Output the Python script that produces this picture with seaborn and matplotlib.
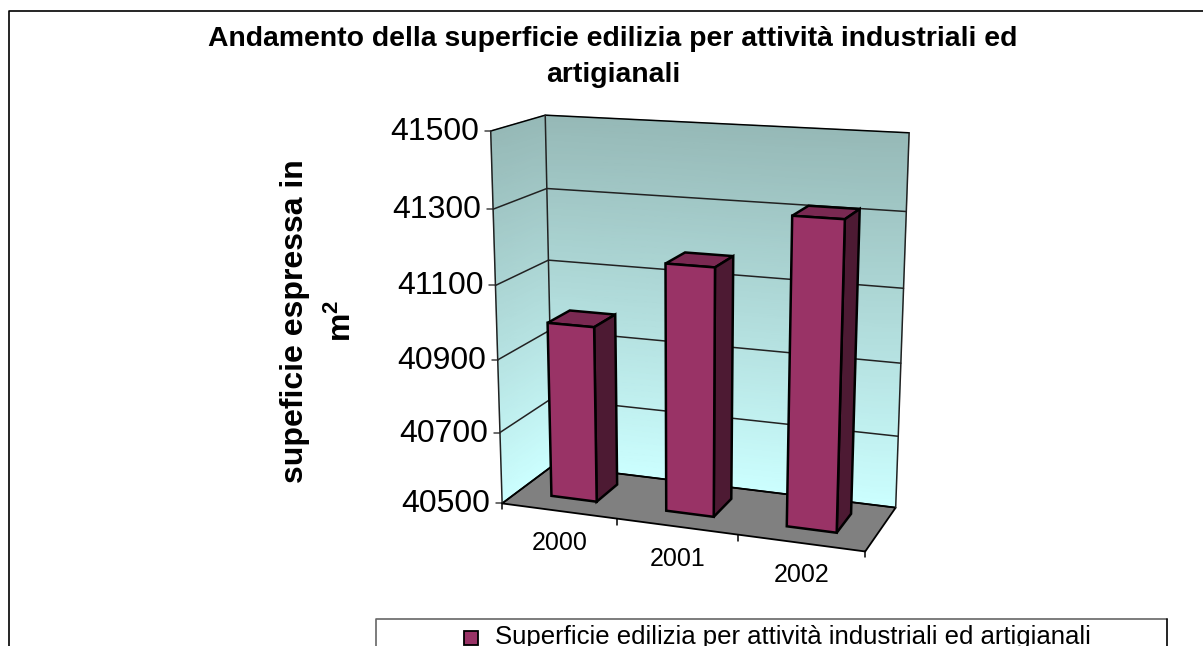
import numpy as np
import pandas as pd
import matplotlib
matplotlib.use("Agg")
import matplotlib.pyplot as plt
from matplotlib.colors import LinearSegmentedColormap
from matplotlib.patches import Polygon, Rectangle
from matplotlib.transforms import Transform
import seaborn as sns

# ---- data ----
years = ["2000", "2001", "2002"]
surface_m2 = [40985, 41170, 41315]
value_ticks = [40500, 40700, 40900, 41100, 41300, 41500]
title_text = "Andamento della superficie edilizia per attività industriali ed\nartigianali"
ylabel_text = "supeficie espressa in\n$\\mathbf{m^2}$"
legend_text = "Superficie edilizia per attività industriali ed artigianali"

sns.set_theme(style="white")
plt.rcParams["font.family"] = ["Liberation Sans", "DejaVu Sans"]
plt.rcParams["mathtext.fontset"] = "custom"
plt.rcParams["mathtext.bf"] = "Liberation Sans:bold"
plt.rcParams["mathtext.rm"] = "Liberation Sans"

W, H = 1203, 646
V0, V1 = value_ticks[0], value_ticks[-1]

# ---- camera calibration: (category position, value fraction, depth) -> pixel ----
anchors = [((0, 0, 0), (503, 502)), ((0, 1, 0), (490, 131)), ((3, 0, 0), (865, 553)),
           ((0, 0, 1), (552, 467)), ((0, 1, 1), (546, 115)), ((3, 1, 1), (909, 133)),
           ((3, 0, 1), (896, 506))]
A = []
for (x, y, z), (u, v) in anchors:
    A.append([x, y, z, 1, 0, 0, 0, 0, -u * x, -u * y, -u * z, -u])
    A.append([0, 0, 0, 0, x, y, z, 1, -v * x, -v * y, -v * z, -v])
CAM = np.linalg.svd(np.array(A, float))[2][-1].reshape(3, 4)


def project(x, val, z):
    """Map category coordinate, data value and depth to canvas pixels."""
    x, val, z = np.broadcast_arrays(np.asarray(x, float), np.asarray(val, float), np.asarray(z, float))
    p = np.stack([x, (val - V0) / (V1 - V0), z, np.ones_like(x)], axis=-1) @ CAM.T
    return p[..., 0] / p[..., 2], p[..., 1] / p[..., 2]


class DepthPlane(Transform):
    """Projects (category, value) data in a plane of constant depth."""
    input_dims = output_dims = 2
    has_inverted = False

    def __init__(self, z):
        super().__init__()
        self.z = z

    def transform_non_affine(self, values):
        u, v = project(values[:, 0] + 0.5, values[:, 1], self.z)
        return np.column_stack([u, v])


fig = plt.figure(figsize=(W / 100, H / 100), dpi=100, facecolor="white")
ax = fig.add_axes([0, 0, 1, 1])
ax.set_xlim(0, W)
ax.set_ylim(H, 0)
ax.axis("off")

bar_ax = fig.add_axes([0, 0, 1, 1], zorder=3)
df = pd.DataFrame({"anno": years, "superficie": surface_m2})
FRONT_Z, BACK_Z, BAR_W = 0.3, 0.74, 0.40
sns.barplot(data=df, x="anno", y="superficie", ax=bar_ax, color="#993366", saturation=1,
            width=BAR_W, edgecolor="black", linewidth=1.8, zorder=6)
bar_ax.axis("off")
bar_ax.patch.set_alpha(0)

# walls and floor
wall_cmap = LinearSegmentedColormap.from_list("wall", ["#CCFFFF", "#96B9B7"])
vv = np.linspace(V0, V1, 60)
xx = np.linspace(0, 3, 2)
gx, gv = np.meshgrid(xx, vv)
bu, bw = project(gx, gv, 1.0)
shade = (gv - V0) / (V1 - V0)
ax.pcolormesh(bu, bw, shade, cmap=wall_cmap, shading="gouraud", zorder=1)
zz = np.linspace(0, 1, 2)
gz, gv2 = np.meshgrid(zz, vv)
lu, lw = project(0 * gz, gv2, gz)
ax.pcolormesh(lu, lw, (gv2 - V0) / (V1 - V0), cmap=wall_cmap, shading="gouraud", zorder=1)
floor = np.column_stack(project([0, 3, 3, 0], V0, [0, 0, 1, 1]))
ax.add_patch(Polygon(floor, closed=True, fc="#808080", ec="black", lw=1.3, zorder=2))

# gridlines, wall outline, value ticks and labels
for t in value_ticks:
    px, py = project([0, 0, 3], t, [0, 1, 1])
    ax.plot(px, py, color="black" if t in (V0, V1) else "#222222", lw=1.1, zorder=3)
    tx, ty = project(0, t, 0)
    ax.plot([tx - 6, tx], [ty, ty], color="#444444", lw=1.1, zorder=3)
    ax.text(tx - 12, ty + 1, str(t), ha="right", va="center", fontsize=23, color="black")
for x0, z0 in [(0, 0), (0, 1), (3, 1)]:
    px, py = project(x0, [V0, V1], z0)
    ax.plot(px, py, color="#222222", lw=1.1, zorder=3)

# category ticks and labels along the front edge of the floor
for i in range(4):
    px, py = project(i, V0, 0)
    ax.plot([px, px], [py, py + 6], color="black", lw=1.1, zorder=3)
for i, lab in enumerate(years):
    px, py = project(i + 0.5, V0, 0)
    ax.text(px + 1, py + 32, lab, ha="center", va="center", fontsize=18, color="black")

# 3-D bars: seaborn draws the front faces; sides and tops follow from each bar's value
front = DepthPlane(FRONT_Z) + ax.transData
for i, (bar, val) in enumerate(zip(bar_ax.patches, surface_m2)):
    bar.set_y(V0)
    bar.set_height(val - V0)
    bar.set_transform(front)
    bar.set_clip_on(False)
    xl, xr = i + 0.5 - BAR_W / 2, i + 0.5 + BAR_W / 2
    top = np.column_stack(project([xl, xr, xr, xl], val, [FRONT_Z, FRONT_Z, BACK_Z, BACK_Z]))
    side = np.column_stack(project([xr, xr, xr, xr], [V0, val, val, V0],
                                   [FRONT_Z, FRONT_Z, BACK_Z, BACK_Z]))
    ax.add_patch(Polygon(top, closed=True, fc="#7A2952", ec="black", lw=1.8, zorder=5))
    ax.add_patch(Polygon(side, closed=True, fc="#4D1A33", ec="black", lw=1.8, zorder=5))

# chart frame: the picture is cropped, so only the left and top edges are visible
ax.plot([9, 9, W + 5], [H + 5, 11, 11], color="black", lw=1.2, zorder=8)

# texts
ax.text(613, 56.5, title_text, ha="center", va="center", fontsize=20.4, fontweight="bold",
        color="black", linespacing=1.5)
ax.text(319, 321, ylabel_text, rotation=90, ha="center", va="center", fontsize=23,
        fontweight="bold", color="black", multialignment="center", linespacing=1.7)

# legend box, clipped by the bottom edge as in the picture
ax.plot([376, 376, 1167], [H + 5, 619, 619], color="#666666", lw=1.2, zorder=8)
ax.plot([1167, 1167], [619, H + 5], color="black", lw=1.2, zorder=8)
ax.add_patch(Rectangle((464, 631), 14, 14, fc="#993366", ec="black", lw=1.3, zorder=8))
ax.text(495, 637, legend_text, ha="left", va="center", fontsize=18.5, color="black", zorder=8)

fig.savefig("out.png", dpi=100, facecolor="white")
